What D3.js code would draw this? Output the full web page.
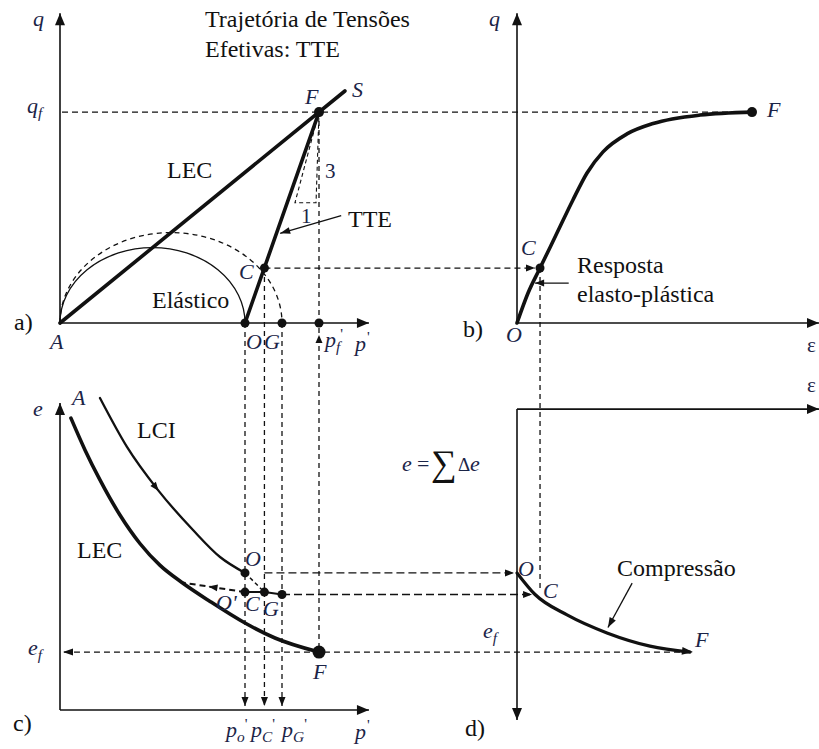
<!DOCTYPE html>
<html><head><meta charset="utf-8">
<script src="https://cdn.jsdelivr.net/npm/d3@7"></script>
<style>
html,body{margin:0;padding:0;background:#fff;}
</style></head><body>
<svg id="chart" width="819" height="749"></svg>
<script>
// ---- p'–q stress plane (a) and e–p' plane (c) ----
const pO = 100, pC = 110.5, pG = 120, pF = 140;   // mean effective stress at O, C, G, F
const qC = 29.7, qF = 114;                         // deviator stress at C and at failure
const pS = 154;                                    // end of the critical state line (S)
const slopeTriangle = [[140, 114], [127, 65], [138.4, 65]];
// ---- q–ε response (b) ----
const strainQ = [[0,0],[0.47,16.2],[0.98,29.7],[1.70,48.6],[2.38,66.5],[2.98,81.1],
                 [3.66,92.5],[4.68,102.2],[5.79,107.8],[7.79,112.4],[10,114]];
const epsC = 0.98, epsF = 10;
// ---- e–p' paths (c) ----
const lciPath = [[21.6,1.540],[36.2,1.377],[53.0,1.233],[71.9,1.100],[86.5,1.010],[100,0.957]];
const lecPath = [[5.9,1.473],[13.5,1.367],[21.6,1.267],[32.4,1.150],[43.2,1.055],[54.1,0.982],
                 [65.9,0.925],[81.1,0.862],[100,0.790],[116.2,0.740],[140,0.693]];
const eO = 0.957, eC = 0.893, eG = 0.885, eF = 0.693;
const unloadEnd = [66, 0.925];
// ---- e–ε compression (d) ----
const strainE = [[0,0.957],[0.77,0.885],[2.13,0.817],[3.83,0.757],[5.66,0.713],[7.36,0.693]];
// axis extents
const pAxisMax = 167, qAxisMax = 167.5, epsAxisMax = 12.85;
const eAxisBottom = 0.5, eAxisTop = 1.523, dAxisTop = 1.503, dAxisBottom = 0.467;

const xP = d3.scaleLinear().domain([0, 100]).range([60, 245]);
const yQ = d3.scaleLinear().domain([0, 100]).range([323, 138]);
const xE = d3.scaleLinear().domain([0, 10]).range([517, 752]);
const yE = d3.scaleLinear().domain([0.5, 1.5]).range([710, 410]);
const M = qF / pF;

const ink = "#111", navy = "#1b2447";
const FONT = "'Liberation Serif', 'Times New Roman', 'DejaVu Serif', serif";
const svg = d3.select("#chart").attr("font-family", FONT);
const DASH = "6,4";

function seg(x1, y1, x2, y2, w = 1.5, dash = null) {
  const l = svg.append("line").attr("x1", x1).attr("y1", y1).attr("x2", x2).attr("y2", y2)
    .attr("stroke", ink).attr("stroke-width", w);
  if (dash) l.attr("stroke-dasharray", dash);
  return l;
}
function head(x, y, ang, len = 9, hw = 3.5) {
  const c = Math.cos(ang), s = Math.sin(ang);
  const bx = x - len * c, by = y - len * s;
  svg.append("path")
    .attr("d", `M${x},${y}L${bx - hw * s},${by + hw * c}L${bx + hw * s},${by - hw * c}Z`)
    .attr("fill", ink);
}
function arrow(x1, y1, x2, y2, w, dash, len, hw) {
  seg(x1, y1, x2, y2, w, dash);
  head(x2, y2, Math.atan2(y2 - y1, x2 - x1), len, hw);
}
function dot(x, y, r = 4.5) {
  svg.append("circle").attr("cx", x).attr("cy", y).attr("r", r).attr("fill", ink);
}
function txt(x, y, s, o = {}) {
  return svg.append("text").attr("x", x).attr("y", y).text(s)
    .attr("font-family", FONT)
    .attr("font-size", o.size || 24)
    .attr("font-style", o.italic ? "italic" : "normal")
    .attr("fill", o.color || (o.italic ? navy : ink))
    .attr("text-anchor", o.anchor || "start");
}
// italic symbol with optional subscript and a raised prime
function sym(x, y, base, sub, prime, size = 22) {
  const t = svg.append("text").attr("x", x).attr("y", y)
    .attr("font-family", FONT).attr("font-size", size).attr("fill", navy);
  t.append("tspan").attr("font-style", "italic").text(base);
  if (sub) {
    t.append("tspan").attr("font-style", "italic").attr("font-size", size * 0.7)
      .attr("dy", 5).text(sub);
    if (prime) t.append("tspan").attr("font-size", size * 0.7).attr("dx", 0).attr("dy", -13).text("'");
  } else if (prime) {
    t.append("tspan").attr("font-size", size * 0.7).attr("dx", 1).attr("dy", -9).text("'");
  }
  return t;
}
const line = d3.line().curve(d3.curveMonotoneX);
function curve(pts, sx, sy, w) {
  return svg.append("path").attr("d", line(pts.map(d => [sx(d[0]), sy(d[1])])))
    .attr("fill", "none").attr("stroke", ink).attr("stroke-width", w)
    .attr("stroke-linecap", "round");
}
function ellipse(p0, dash) {
  const x0 = xP(0), x1 = xP(p0), y0 = yQ(0);
  const rx = (x1 - x0) / 2, ry = y0 - yQ(M * p0 / 2);
  const el = svg.append("path").attr("d", `M${x0},${y0}A${rx},${ry} 0 0 1 ${x1},${y0}`)
    .attr("fill", "none").attr("stroke", ink).attr("stroke-width", 1.3);
  if (dash) el.attr("stroke-dasharray", dash);
}

// ================= panel a =================
ellipse(pO, null);
ellipse(pG, "5,4");
seg(xP(0) + 2, yQ(qF), xE(epsF), yQ(qF), 1.3, DASH);
// slope triangle
svg.append("path").attr("d", d3.line()(slopeTriangle.map(d => [xP(d[0]), yQ(d[1])])) + "Z")
  .attr("fill", "none").attr("stroke", ink).attr("stroke-width", 1.1).attr("stroke-dasharray", "4,3");
// projection lines
seg(xP(pF), yQ(qF), xP(pF), yE(eF), 1.3, "5,4");
head(xP(pF), yQ(0) + 12, -Math.PI / 2, 8, 3.5);
arrow(xP(pC), yQ(qC), xE(epsC) - 5, yQ(qC), 1.3, DASH, 9, 3.5);
[[pO, yQ(0)], [pC, yQ(qC)], [pG, yQ(0)]].forEach(([p, y0]) => {
  arrow(xP(p), y0, xP(p), yE(eAxisBottom) - 4, 1.3, "5,4", 9, 3.5);
});
// axes
arrow(xP(0), yQ(0), xP(0), yQ(qAxisMax), 1.6, null, 12, 5);
arrow(xP(0), yQ(0), xP(pAxisMax), yQ(0), 1.6, null, 12, 5);
// critical state line and effective stress path
seg(xP(0), yQ(0), xP(pS), yQ(M * pS), 3.6).attr("stroke-linecap", "round");
seg(xP(pO), yQ(0), xP(pF), yQ(qF), 3.6).attr("stroke-linecap", "round");
arrow(xP(152), yQ(58), xP(119), yQ(48.5), 1.3, null, 10, 3.5);
dot(xP(pO), yQ(0)); dot(xP(pG), yQ(0)); dot(xP(pF), yQ(0));
dot(xP(pC), yQ(qC)); dot(xP(pF), yQ(qF), 5);

// ================= panel b =================
arrow(xE(0), yQ(0), xE(0), yQ(qAxisMax), 1.6, null, 12, 5);
arrow(xE(0), yQ(0), xE(epsAxisMax), yQ(0), 1.6, null, 12, 5);
curve(strainQ, xE, yQ, 3.6);
dot(xE(epsC), yQ(qC)); dot(xE(epsF), yQ(qF), 5);
arrow(xE(2.2), yQ(21.6), xE(0.77), yQ(21.6), 1.3, null, 9, 3.5);
seg(xE(epsC), yQ(qC), xE(epsC), yE(eC), 1.3, "5,4");

// ================= panel c =================
arrow(xP(0), yE(eAxisBottom), xP(0), yE(eAxisTop), 1.6, null, 12, 5);
arrow(xP(0), yE(eAxisBottom), xP(pAxisMax), yE(eAxisBottom), 1.6, null, 12, 5);
const lci = curve(lciPath, xP, yE, 2.3);
{
  const n = lci.node(), L = n.getTotalLength();
  const a = n.getPointAtLength(L * 0.47), b = n.getPointAtLength(L * 0.47 + 2);
  head(b.x, b.y, Math.atan2(b.y - a.y, b.x - a.x), 9, 3.5);
}
curve(lecPath, xP, yE, 3.6);
// unloading toward the critical state line
{
  const x1 = xP(pO), y1 = yE(eC), x2 = xP(unloadEnd[0]), y2 = yE(unloadEnd[1]);
  seg(x1, y1, x2, y2, 2, "6,4");
  const t = 0.58;
  head(x1 + (x2 - x1) * t, y1 + (y2 - y1) * t, Math.atan2(y2 - y1, x2 - x1), 9, 3.5);
}
seg(xP(pO), yE(eO), xP(pC), yE(eC), 1.5, "4,3");
svg.append("path").attr("d", d3.line()([[xP(pO), yE(eC)], [xP(pC), yE(eC)], [xP(pG), yE(eG)]]))
  .attr("fill", "none").attr("stroke", ink).attr("stroke-width", 2);
arrow(xP(pC), yE(eO), xE(0) - 3, yE(eO), 1.3, "8,4", 9, 3.5);
arrow(xP(pG), yE(eG), xE(0.64), yE(eG), 1.3, "8,4", 9, 3.5);
arrow(xE(7.36), yE(eF), xP(0) + 3, yE(eF), 1.3, DASH, 10, 3.5);
dot(xP(pO), yE(eO)); dot(xP(pO), yE(eC)); dot(xP(pC), yE(eC)); dot(xP(pG), yE(eG));
dot(xP(pF), yE(eF), 6.5);

// ================= panel d =================
arrow(xE(0), yE(dAxisTop), xE(epsAxisMax), yE(dAxisTop), 1.6, null, 12, 5);
arrow(xE(0), yE(dAxisTop), xE(0), yE(dAxisBottom), 1.6, null, 12, 5);
{
  const c = curve(strainE, xE, yE, 3.2);
  const n = c.node(), L = n.getTotalLength();
  const a = n.getPointAtLength(L - 3), b = n.getPointAtLength(L);
  head(b.x + 3, b.y, Math.atan2(b.y - a.y, b.x - a.x), 11, 4);
}
arrow(xE(4.9), yE(0.923), xE(3.87), yE(0.775), 1.3, null, 10, 3.5);

// ================= labels =================
// title
txt(205, 27, "Trajetória de Tensões");
txt(205, 57, "Efetivas: TTE");
// panel a
sym(33, 26, "q");
sym(27, 113, "q", "f");
txt(50, 349, "A", { italic: true, size: 22 });
txt(14, 330, "a)");
txt(246, 349, "O", { italic: true, size: 22 });
txt(264, 349, "G", { italic: true, size: 22 });
sym(325, 347, "p", "f", true);
sym(355, 351, "p", "", true);
txt(239, 279, "C", { italic: true, size: 22 });
txt(305, 104, "F", { italic: true, size: 22 });
txt(352, 97, "S", { italic: true, size: 22 });
txt(167, 178, "LEC");
txt(152, 308, "Elástico");
txt(348, 227, "TTE");
txt(325, 178, "3", { size: 21, color: navy });
txt(301, 223, "1", { size: 21, color: navy });
// panel b
sym(489, 26, "q");
txt(506, 342, "O", { italic: true, size: 22 });
txt(463, 337, "b)");
txt(807, 352, "ε", { size: 21, color: navy });
txt(767, 117, "F", { italic: true, size: 22 });
txt(521, 255, "C", { italic: true, size: 22 });
txt(577, 273, "Resposta");
txt(577, 302, "elasto-plástica");
// panel c
sym(33, 416, "e");
sym(28, 655, "e", "f");
txt(13, 731, "c)");
txt(72, 405, "A", { italic: true, size: 22 });
txt(137, 438, "LCI");
txt(77, 558, "LEC");
txt(245, 566, "O", { italic: true, size: 22 });
txt(216, 610, "O'", { italic: true, size: 22 });
txt(245, 611, "C", { italic: true, size: 22 });
txt(263, 616, "G", { italic: true, size: 22 });
txt(313, 679, "F", { italic: true, size: 22 });
sym(226, 737, "p", "o", true);
sym(251, 737, "p", "C", true);
sym(282, 737, "p", "G", true);
sym(355, 739, "p", "", true);
// panel d
txt(807, 392, "ε", { size: 21, color: navy });
txt(402, 471, "e", { italic: true, size: 22 });
txt(417, 471, "=", { size: 22, color: navy });
txt(431, 475, "∑", { size: 36, color: ink });
txt(458, 471, "Δ", { size: 19, color: navy });
txt(470, 471, "e", { italic: true, size: 22 });
txt(465, 736, "d)");
txt(518, 576, "O", { italic: true, size: 22 });
txt(543, 598, "C", { italic: true, size: 22 });
sym(483, 638, "e", "f");
txt(695, 647, "F", { italic: true, size: 22 });
txt(617, 576, "Compressão");
</script>
</body></html>
